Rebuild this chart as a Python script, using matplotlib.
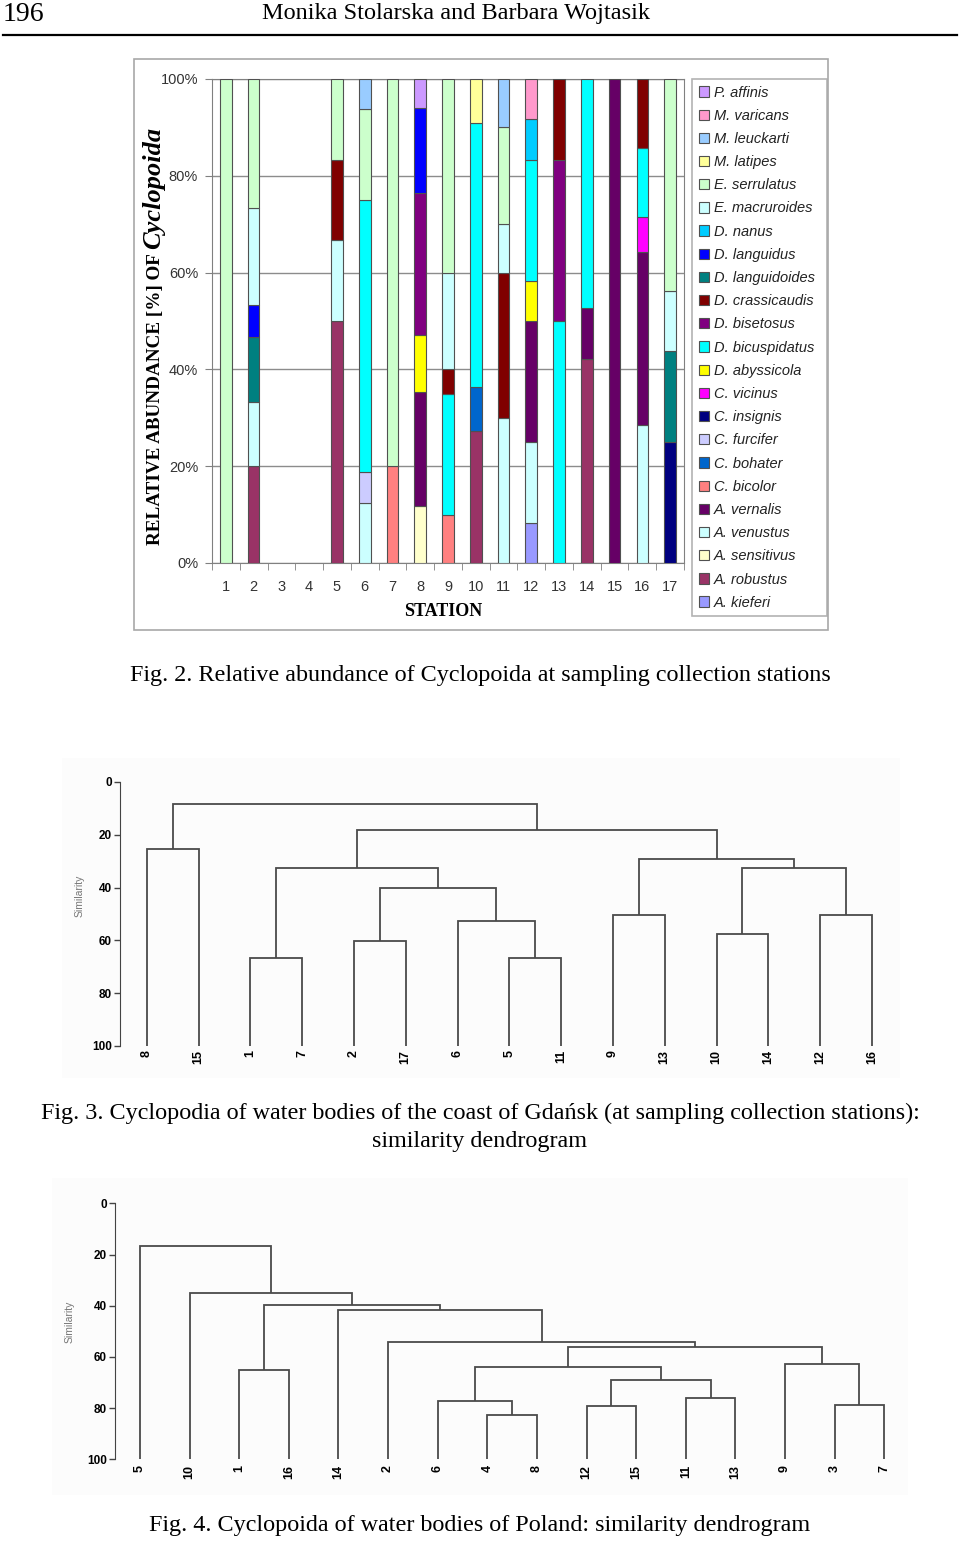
import matplotlib
matplotlib.use("Agg")
import matplotlib.pyplot as plt
import numpy as np
from matplotlib.lines import Line2D
from matplotlib.patches import Rectangle

W, H = 960, 1543

stations = np.arange(1, 18)

# relative abundance [%] for stations 1..17 (stack order: bottom -> top)
a_kieferi = [0, 0, 0, 0, 0, 0, 0, 0, 0, 0, 0, 8.33, 0, 0, 0, 0, 0]
a_robustus = [0, 20, 0, 0, 50, 0, 0, 0, 0, 27.27, 0, 0, 0, 42.11, 0, 0, 0]
a_sensitivus = [0, 0, 0, 0, 0, 0, 0, 11.76, 0, 0, 0, 0, 0, 0, 0, 0, 0]
a_venustus = [0, 13.33, 0, 0, 16.67, 12.5, 0, 0, 0, 0, 30, 16.67, 0, 0, 0, 28.57, 0]
a_vernalis = [0, 0, 0, 0, 0, 0, 0, 23.53, 0, 0, 0, 25, 0, 10.53, 100, 35.71, 0]
c_bicolor = [0, 0, 0, 0, 0, 0, 20, 0, 10, 0, 0, 0, 0, 0, 0, 0, 0]
c_bohater = [0, 0, 0, 0, 0, 0, 0, 0, 0, 9.09, 0, 0, 0, 0, 0, 0, 0]
c_furcifer = [0, 0, 0, 0, 0, 6.25, 0, 0, 0, 0, 0, 0, 0, 0, 0, 0, 0]
c_insignis = [0, 0, 0, 0, 0, 0, 0, 0, 0, 0, 0, 0, 0, 0, 0, 0, 25]
c_vicinus = [0, 0, 0, 0, 0, 0, 0, 0, 0, 0, 0, 0, 0, 0, 0, 7.14, 0]
d_abyssicola = [0, 0, 0, 0, 0, 0, 0, 11.76, 0, 0, 0, 8.33, 0, 0, 0, 0, 0]
d_bicuspidatus = [0, 0, 0, 0, 0, 56.25, 0, 0, 25, 54.55, 0, 25, 50, 47.37, 0, 14.29, 0]
d_bisetosus = [0, 0, 0, 0, 0, 0, 0, 29.41, 0, 0, 0, 0, 33.33, 0, 0, 0, 0]
d_crassicaudis = [0, 0, 0, 0, 16.67, 0, 0, 0, 5, 0, 30, 0, 16.67, 0, 0, 14.29, 0]
d_languidoides = [0, 13.33, 0, 0, 0, 0, 0, 0, 0, 0, 0, 0, 0, 0, 0, 0, 18.75]
d_languidus = [0, 6.67, 0, 0, 0, 0, 0, 17.65, 0, 0, 0, 0, 0, 0, 0, 0, 0]
d_nanus = [0, 0, 0, 0, 0, 0, 0, 0, 0, 0, 0, 8.33, 0, 0, 0, 0, 0]
e_macruroides = [0, 20, 0, 0, 0, 0, 0, 0, 20, 0, 10, 0, 0, 0, 0, 0, 12.5]
e_serrulatus = [100, 26.67, 0, 0, 16.67, 18.75, 80, 0, 40, 0, 20, 0, 0, 0, 0, 0, 43.75]
m_latipes = [0, 0, 0, 0, 0, 0, 0, 0, 0, 9.09, 0, 0, 0, 0, 0, 0, 0]
m_leuckarti = [0, 0, 0, 0, 0, 6.25, 0, 0, 0, 0, 10, 0, 0, 0, 0, 0, 0]
m_varicans = [0, 0, 0, 0, 0, 0, 0, 0, 0, 0, 0, 8.33, 0, 0, 0, 0, 0]
p_affinis = [0, 0, 0, 0, 0, 0, 0, 5.88, 0, 0, 0, 0, 0, 0, 0, 0, 0]

species_names = [
    "A. kieferi", "A. robustus", "A. sensitivus", "A. venustus", "A. vernalis",
    "C. bicolor", "C. bohater", "C. furcifer", "C. insignis", "C. vicinus",
    "D. abyssicola", "D. bicuspidatus", "D. bisetosus", "D. crassicaudis",
    "D. languidoides", "D. languidus", "D. nanus", "E. macruroides",
    "E. serrulatus", "M. latipes", "M. leuckarti", "M. varicans", "P. affinis",
]
species_values = [
    a_kieferi, a_robustus, a_sensitivus, a_venustus, a_vernalis,
    c_bicolor, c_bohater, c_furcifer, c_insignis, c_vicinus,
    d_abyssicola, d_bicuspidatus, d_bisetosus, d_crassicaudis,
    d_languidoides, d_languidus, d_nanus, e_macruroides,
    e_serrulatus, m_latipes, m_leuckarti, m_varicans, p_affinis,
]
species_colors = [
    "#9999FF", "#993366", "#FFFFCC", "#CCFFFF", "#660066",
    "#FF8080", "#0066CC", "#CCCCFF", "#000080", "#FF00FF",
    "#FFFF00", "#00FFFF", "#800080", "#800000",
    "#008080", "#0000FF", "#00CCFF", "#CCFFFF",
    "#CCFFCC", "#FFFF99", "#99CCFF", "#FF99CC", "#CC99FF",
]

# dendrograms: (left, right, similarity) nested, leaves are station numbers
fig3_tree = (
    (8, 15, 25.2),
    (
        ((1, 7, 66.6), ((2, 17, 60.2), (6, (5, 11, 66.6), 52.5), 40.3), 32.5),
        ((9, 13, 50.3), ((10, 14, 57.4), (12, 16, 50.3), 32.5), 29.3),
        18.1,
    ),
    8.5,
)
fig4_tree = (
    5,
    (10,
     ((1, 16, 65.1),
      (14,
       (2,
        (((6, (4, 8, 82.7), 77.2), ((12, 15, 79.1), (11, 13, 76.2), 69.1), 64.1),
         (9, (3, 7, 78.8), 62.7), 56.3),
        54.2),
       41.7),
      39.8),
     34.9),
    16.7,
)

SERIF = "Liberation Serif"
SANS = "Liberation Sans"


def px_axes(fig, left, top, right, bottom):
    return fig.add_axes([left / W, 1 - bottom / H, (right - left) / W, (bottom - top) / H])


def fx(x):
    return x / W


def fy(y):
    return 1 - y / H


def draw_tree(ax, node, leaves):
    if isinstance(node, int):
        leaves.append(node)
        return len(leaves) - 1, 100.0
    left, right, h = node
    xl, hl = draw_tree(ax, left, leaves)
    xr, hr = draw_tree(ax, right, leaves)
    ax.plot([xl, xl, xr, xr], [hl, h, h, hr], color="#4a4a4a", lw=1.3,
            solid_joinstyle="miter", solid_capstyle="butt")
    return (xl + xr) / 2, h


def dendrogram(fig, tree, box, first_leaf, step, label_pad, sim_label_xy):
    left, top, right, bottom = box
    ax = px_axes(fig, left, top, right, bottom)
    leaves = []
    draw_tree(ax, tree, leaves)
    ax.set_xlim(-(first_leaf - left) / step, (right - first_leaf) / step)
    ax.set_ylim(100, 0)
    ax.set_facecolor("none")
    for s in ("top", "right", "bottom"):
        ax.spines[s].set_visible(False)
    ax.spines["left"].set_color("#444444")
    ax.set_yticks([0, 20, 40, 60, 80, 100])
    ax.tick_params(axis="y", direction="out", length=4, width=1, color="#444444",
                   labelsize=8.5, pad=2)
    for t in ax.get_yticklabels():
        t.set_fontweight("bold")
        t.set_family(SANS)
    ax.set_xticks(range(len(leaves)))
    ax.set_xticklabels([str(v) for v in leaves], rotation=90, fontsize=9,
                       fontweight="bold", family=SANS)
    ax.tick_params(axis="x", length=0, pad=label_pad)
    fig.text(fx(sim_label_xy[0]), fy(sim_label_xy[1]), "Similarity", rotation=90,
             ha="center", va="center", fontsize=7.5, color="#777777", family=SANS)
    return ax


fig = plt.figure(figsize=(W / 100, H / 100), dpi=100)

# page header
fig.text(fx(3), fy(21), "196", ha="left", va="baseline", fontsize=20, family=SERIF)
fig.text(fx(456), fy(19), "Monika Stolarska and Barbara Wojtasik", ha="center",
         va="baseline", fontsize=17.5, family=SERIF)
fig.add_artist(Line2D([fx(3), fx(957)], [fy(35), fy(35)], color="black", lw=1.6))

# ---- Fig. 2: stacked bars ----
fig.add_artist(Rectangle((fx(134), fy(630)), (828 - 134) / W, (630 - 59) / H,
                         transform=fig.transFigure, fill=False,
                         edgecolor="#a8a8a8", lw=1.2))
ax = px_axes(fig, 212, 79, 684, 563)
bottom = np.zeros(len(stations))
handles = []
for name, vals, col in zip(species_names, species_values, species_colors):
    vals = np.array(vals, dtype=float)
    keep = vals > 0
    bars = ax.bar(stations[keep], vals[keep], bottom=bottom[keep], width=0.42,
                  color=col, edgecolor="#505050", linewidth=0.8, label=name, zorder=3)
    handles.append(bars)
    bottom += vals
ax.set_xlim(0.5, 17.5)
ax.set_ylim(0, 100)
ax.set_yticks([0, 20, 40, 60, 80, 100])
ax.set_yticklabels(["%d%%" % v for v in [0, 20, 40, 60, 80, 100]])
ax.yaxis.grid(True, color="#8c8c8c", lw=1)
ax.set_axisbelow(True)
ax.set_xticks(stations)
ax.set_xticks(np.arange(0.5, 18, 1), minor=True)
ax.tick_params(axis="x", which="major", length=0, pad=12, labelsize=10.5,
               labelcolor="#333333")
ax.tick_params(axis="x", which="minor", length=5, direction="out", color="#808080")
ax.tick_params(axis="y", length=5, direction="out", color="#808080", pad=5,
               labelsize=10.5, labelcolor="#333333")
for t in ax.get_xticklabels() + ax.get_yticklabels():
    t.set_family(SANS)
for s in ax.spines.values():
    s.set_color("#808080")

leg = ax.legend(handles[::-1], species_names[::-1], loc="upper left",
                bbox_to_anchor=(fx(692), fy(612), 135 / W, 533 / H),
                bbox_transform=fig.transFigure, mode="expand", borderaxespad=0,
                frameon=True, fancybox=False, edgecolor="#a0a0a0",
                prop={"family": SANS, "style": "italic", "size": 10.5},
                handlelength=0.7, handleheight=0.7, handletextpad=0.35,
                labelspacing=0.63, borderpad=0.45)
leg.get_frame().set_linewidth(1.2)
for t in leg.get_texts():
    t.set_color("#222222")

fig.text(fx(443), fy(612), "STATION", ha="center", va="center", fontsize=13,
         fontweight="bold", family=SERIF)

ylab1 = fig.text(fx(160), fy(545), "RELATIVE ABUNDANCE [%] OF ", rotation=90,
                 rotation_mode="anchor", ha="left", va="baseline", fontsize=13.8,
                 fontweight="bold", family=SERIF)
fig.canvas.draw()
ext = ylab1.get_window_extent()
fig.text(fx(160), ext.y1 / H, "Cyclopoida", rotation=90, rotation_mode="anchor",
         ha="left", va="baseline", fontsize=19, fontweight="bold",
         fontstyle="italic", family=SERIF)

fig.text(0.5, fy(675), "Fig. 2. Relative abundance of Cyclopoida at sampling collection stations",
         ha="center", va="center", fontsize=17.4, family=SERIF)

# ---- Fig. 3 ----
fig.add_artist(Rectangle((fx(62), fy(1078)), (900 - 62) / W, (1078 - 758) / H,
                         transform=fig.transFigure, color="#fcfcfc", lw=0, zorder=-5))
dendrogram(fig, fig3_tree, (120, 782, 900, 1046), 146.7, 51.8, 3, (80, 896))
fig.text(0.5, fy(1113),
         "Fig. 3. Cyclopodia of water bodies of the coast of Gdańsk (at sampling collection stations):",
         ha="center", va="center", fontsize=17.4, family=SERIF)
fig.text(0.5, fy(1141), "similarity dendrogram", ha="center", va="center",
         fontsize=17.4, family=SERIF)

# ---- Fig. 4 ----
fig.add_artist(Rectangle((fx(52), fy(1495)), (908 - 52) / W, (1495 - 1178) / H,
                         transform=fig.transFigure, color="#fcfcfc", lw=0, zorder=-5))
dendrogram(fig, fig4_tree, (115, 1203.3, 905, 1459.3), 140, 49.62, 4, (70, 1322))
fig.text(0.5, fy(1526), "Fig. 4. Cyclopoida of water bodies of Poland: similarity dendrogram",
         ha="center", va="center", fontsize=17.4, family=SERIF)

fig.savefig("out.png", dpi=100)
